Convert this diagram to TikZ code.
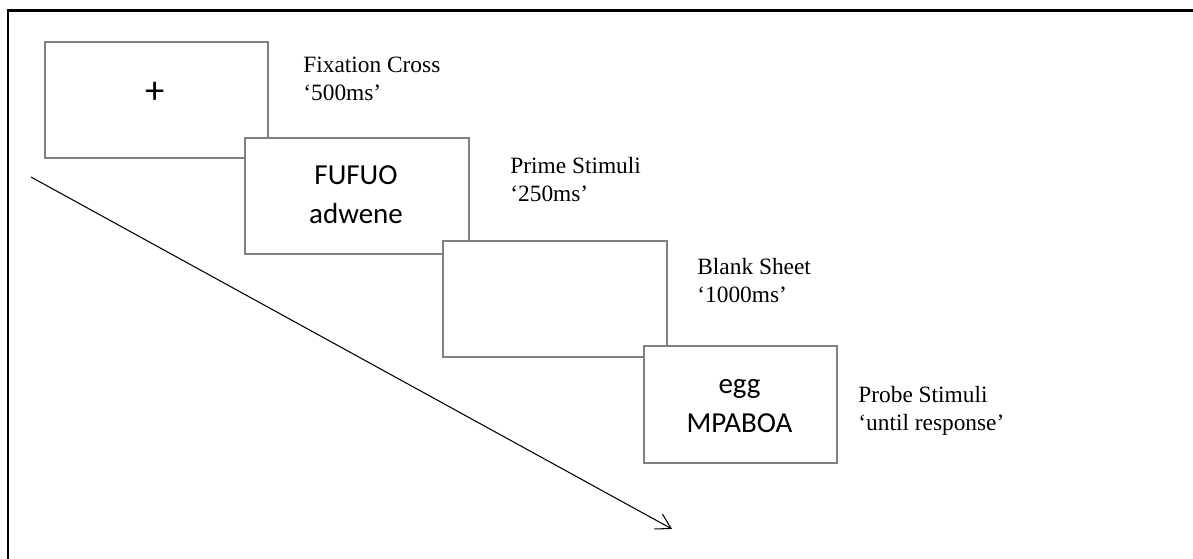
\documentclass[tikz,border=0pt]{standalone}
\usepackage{fontspec}
\setmainfont{Liberation Serif}
\newfontfamily\boxfont{Carlito}
\usetikzlibrary{positioning,arrows.meta,calc}
\definecolor{framec}{RGB}{0,0,0}
\definecolor{boxc}{RGB}{128,128,128}
\tikzset{
  screen/.style={draw=boxc, fill=white, line width=1.2pt, anchor=north west, inner sep=0pt},
  stim/.style={font=\boxfont\fontsize{16.5}{22.2}\selectfont, align=center, inner sep=0pt},
  phase/.style={font=\fontsize{13.3}{15.9}\selectfont, align=left, anchor=base west, inner sep=0pt},
}

\begin{document}
\begin{tikzpicture}
\useasboundingbox (0,0) rectangle (23.86,-11.16);
\clip (0,0) rectangle (23.86,-11.16);

% ------------------------------------------------- frame
\draw[draw=framec, line width=1.6pt] (0.16,-12) -- (0.16,-0.21) -- (25,-0.21);

% ------------------------------------------------- fixation cross
\coordinate (F) at (0.88,-0.82);
\node[screen, minimum width=4.46cm, minimum height=2.32cm] (fixbox) at (F) {};
\node[stim, font=\boxfont\fontsize{22}{26}\selectfont] (fixtxt) at ($(F)+(2.22,-1.04)$) {+};
\node[phase] (fixlbl) at ($(F)+(5.18,-1.18)$) {Fixation Cross\\‘500ms’};

% ------------------------------------------------- prime
\coordinate (P) at (4.88,-2.74);
\node[screen, minimum width=4.48cm, minimum height=2.32cm] (primebox) at (P) {};
\node[stim] (primetxt) at ($(P)+(2.24,-1.15)$) {FUFUO\\adwene};
\node[phase] (primelbl) at ($(P)+(5.32,-1.28)$) {Prime Stimuli\\‘250ms’};

% ------------------------------------------------- blank
\coordinate (B) at (8.84,-4.80);
\node[screen, minimum width=4.48cm, minimum height=2.32cm] (blankbox) at (B) {};
\node[phase] (blanklbl) at ($(B)+(5.10,-1.24)$) {Blank Sheet\\‘1000ms’};

% ------------------------------------------------- probe
\coordinate (R) at (12.86,-6.90);
\node[screen, minimum width=3.86cm, minimum height=2.34cm] (probebox) at (R) {};
\node[stim] (probetxt) at ($(R)+(1.93,-1.23)$) {egg\\MPABOA};
\node[phase] (probelbl) at ($(R)+(4.30,-1.70)$) {Probe Stimuli\\‘until response’};

% ------------------------------------------------- time axis
\coordinate (tstart) at (0.62,-3.54);
\coordinate (tend) at (13.44,-10.58);
\draw[-{Straight Barb[length=2.9mm,width=3.4mm]}, line width=0.6pt] (tstart) -- (tend);

\end{tikzpicture}
\end{document}
